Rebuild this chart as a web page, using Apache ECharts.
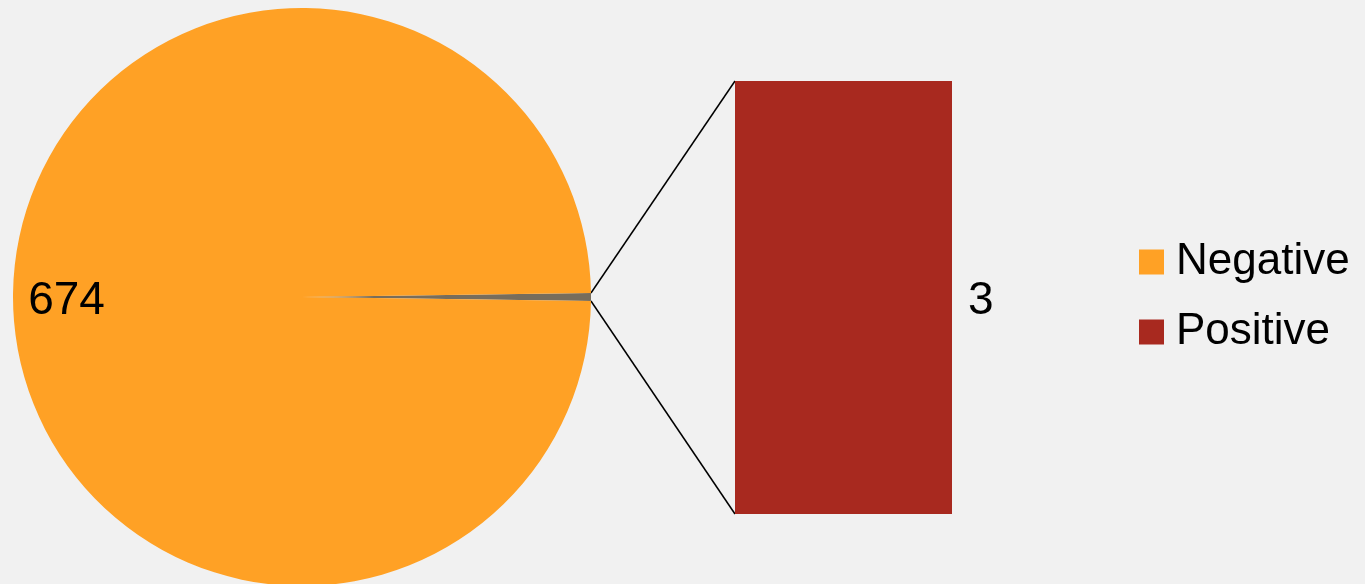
<!DOCTYPE html>
<html><head><meta charset="utf-8">
<script src="https://cdn.jsdelivr.net/npm/echarts@6/dist/echarts.min.js"></script>
<style>html,body{margin:0;padding:0;background:#f1f1f1;}#c{width:1365px;height:584px;}</style>
</head><body><div id="c"></div>
<script>
const pieNames = ['Other', 'Negative'];
const pieValues = [3, 674];
const barCategories = ['Other'];
const barValues = [3];
const legendNames = ['Negative', 'Positive'];

const FONT = '"Liberation Sans", Arial, sans-serif';
const cx = 302, cy = 297, R = 289;
const total = pieValues.reduce((a, b) => a + b, 0);
const half = 360 * pieValues[0] / total / 2;
const gridL = 735, gridT = 81, gridW = 217, gridH = 433;

const chart = echarts.init(document.getElementById('c'));
const a = half * Math.PI / 180;
const p1 = [cx + R * Math.cos(a), cy - R * Math.sin(a)];
const p2 = [cx + R * Math.cos(a), cy + R * Math.sin(a)];

chart.setOption({
  backgroundColor: '#f1f1f1',
  animation: false,
  textStyle: { fontFamily: FONT },
  legend: {
    data: legendNames,
    orient: 'vertical',
    left: 1134, top: 235,
    icon: 'rect', itemWidth: 25, itemHeight: 25, itemGap: 26,
    textStyle: { fontSize: 44, lineHeight: 44, color: '#000', padding: [0, 0, 0, 7], fontFamily: FONT }
  },
  grid: { left: gridL, top: gridT, width: gridW, height: gridH },
  xAxis: { type: 'category', data: barCategories, show: false },
  yAxis: { type: 'value', min: 0, max: barValues[0], show: false },
  series: [
    {
      type: 'pie',
      center: [cx, cy], radius: R,
      startAngle: half, clockwise: true,
      legendHoverLink: false,
      data: pieNames.map((n, i) => ({
        name: n, value: pieValues[i],
        itemStyle: { color: i === 0 ? '#776d5c' : '#ffa125' },
        label: { show: i === 1 }
      })),
      label: { position: 'inside', formatter: '{c}', fontSize: 46, color: '#000', fontFamily: FONT },
      labelLayout: { dx: -88, dy: 4 },
      labelLine: { show: false },
      emphasis: { disabled: true }
    },
    {
      type: 'bar', name: 'Positive',
      data: barValues, barWidth: '100%',
      itemStyle: { color: '#a8291f' },
      label: { show: true, position: 'right', distance: 16, offset: [0, 4], fontSize: 46, color: '#000', fontFamily: FONT }
    }
  ],
  color: ['#ffa125', '#a8291f'],
  graphic: [
    { type: 'line', shape: { x1: p1[0], y1: p1[1], x2: gridL, y2: gridT }, style: { stroke: '#000', lineWidth: 1.5 } },
    { type: 'line', shape: { x1: p2[0], y1: p2[1], x2: gridL, y2: gridT + gridH }, style: { stroke: '#000', lineWidth: 1.5 } }
  ]
});
</script></body></html>
